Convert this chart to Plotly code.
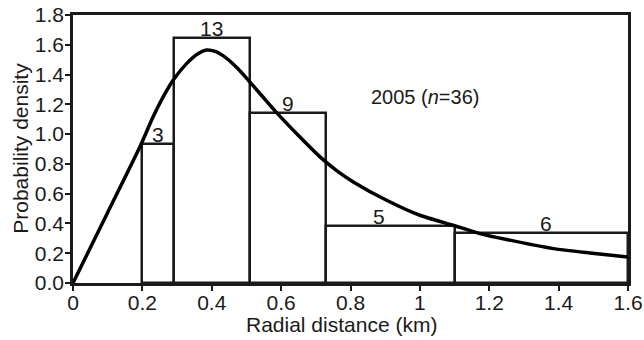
import plotly.graph_objects as go

# Histogram bins (km) and densities
bin_left = [0.20, 0.29, 0.51, 0.73, 1.10]
bin_right = [0.29, 0.51, 0.73, 1.10, 1.60]
bin_density = [0.933, 1.643, 1.139, 0.383, 0.336]
bin_counts = ["3", "13", "9", "5", "6"]

# Fitted density curve
curve_x = [0, 0.10, 0.193, 0.231, 0.26, 0.289, 0.328, 0.36, 0.385, 0.41, 0.443, 0.475,
           0.505, 0.545, 0.589, 0.65, 0.712, 0.76, 0.808, 0.904, 1.0, 1.096, 1.173,
           1.25, 1.385, 1.49, 1.60]
curve_y = [0, 0.474, 0.915, 1.116, 1.25, 1.363, 1.475, 1.54, 1.565, 1.555, 1.509, 1.44,
           1.363, 1.256, 1.139, 0.99, 0.847, 0.755, 0.679, 0.556, 0.455, 0.388, 0.332,
           0.292, 0.231, 0.202, 0.175]

x_ticks = [0, 0.2, 0.4, 0.6, 0.8, 1.0, 1.2, 1.4, 1.6]
x_tick_labels = ["0", "0.2", "0.4", "0.6", "0.8", "1", "1.2", "1.4", "1.6"]
y_ticks = [0.0, 0.2, 0.4, 0.6, 0.8, 1.0, 1.2, 1.4, 1.6, 1.8]
y_tick_labels = ["0.0", "0.2", "0.4", "0.6", "0.8", "1.0", "1.2", "1.4", "1.6", "1.8"]

x_title = "Radial distance (km)"
y_title = "Probability density"
legend_text = "2005 (<i>n</i>=36)"

centers = [(a + b) / 2 for a, b in zip(bin_left, bin_right)]
widths = [b - a for a, b in zip(bin_left, bin_right)]
label_xshift = [0, 0, 0, -11, 5]  # style: small horizontal offsets of count labels

INK = "#1a1a1a"

fig = go.Figure()
fig.add_trace(go.Bar(
    x=centers, y=bin_density, width=widths, base=0,
    marker=dict(color="rgba(0,0,0,0)", line=dict(color=INK, width=2.5)),
    hoverinfo="skip", showlegend=False,
))
fig.add_trace(go.Scatter(
    x=curve_x, y=curve_y, mode="lines",
    line=dict(color="black", width=3.5, shape="spline", smoothing=0.6),
    showlegend=False,
))

for c, h, t, dx in zip(centers, bin_density, bin_counts, label_xshift):
    fig.add_annotation(x=c, y=h, text=t, showarrow=False, yanchor="bottom",
                       yshift=-4, xshift=dx, font=dict(size=21, color=INK))

fig.add_annotation(x=1.015, y=1.25, text=legend_text, showarrow=False,
                   xanchor="center", yanchor="middle", font=dict(size=20, color=INK))

# Axis titles
fig.add_annotation(xref="paper", yref="paper", x=0.483, y=-0.153, text=x_title,
                   showarrow=False, xanchor="center", yanchor="middle",
                   font=dict(size=21, color=INK))
fig.add_annotation(xref="paper", yref="paper", x=-0.095, y=0.502, text=y_title,
                   showarrow=False, xanchor="center", yanchor="middle", textangle=-90,
                   font=dict(size=21, color=INK))

fig.update_layout(
    width=644, height=340,
    margin=dict(l=73, r=16, t=15, b=57),
    paper_bgcolor="white", plot_bgcolor="white",
    font=dict(family="Liberation Sans, Arial, sans-serif", color=INK),
    bargap=0,
)
fig.update_xaxes(
    range=[0, 1.6], tickvals=x_ticks, ticktext=x_tick_labels,
    ticks="outside", ticklen=5, tickwidth=2, tickcolor=INK,
    showline=True, linecolor=INK, linewidth=2.5, mirror=True,
    showgrid=False, zeroline=False, tickfont=dict(size=21),
    ticklabelstandoff=-6, automargin=False,
)
fig.update_yaxes(
    range=[0, 1.8], tickvals=y_ticks, ticktext=y_tick_labels,
    ticks="outside", ticklen=5, tickwidth=2, tickcolor=INK,
    showline=True, linecolor=INK, linewidth=2.5, mirror=True,
    showgrid=False, zeroline=False, tickfont=dict(size=21),
    ticklabelstandoff=-3, automargin=False,
)

fig.write_html("out.html")
